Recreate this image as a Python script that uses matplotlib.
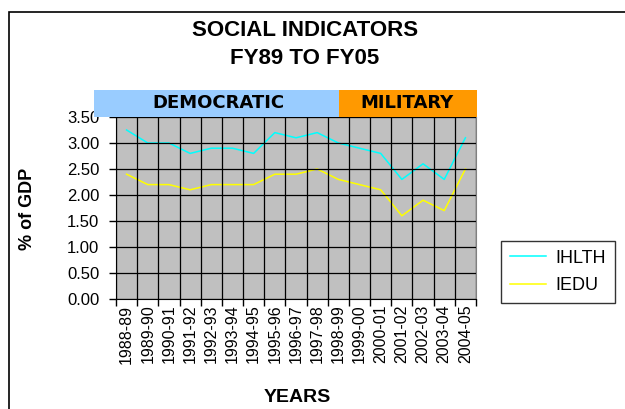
import matplotlib
matplotlib.use("Agg")
import matplotlib.pyplot as plt
from matplotlib.patches import Rectangle
from matplotlib.ticker import FixedLocator, FixedFormatter

years = ["1988-89", "1989-90", "1990-91", "1991-92", "1992-93", "1993-94", "1994-95",
         "1995-96", "1996-97", "1997-98", "1998-99", "1999-00", "2000-01", "2001-02",
         "2002-03", "2003-04", "2004-05"]
ihlth = [3.25, 3.0, 3.0, 2.8, 2.9, 2.9, 2.8, 3.2, 3.1, 3.2, 3.0, 2.9, 2.8, 2.3, 2.6, 2.3, 3.1]
iedu = [2.4, 2.2, 2.2, 2.1, 2.2, 2.2, 2.2, 2.4, 2.4, 2.5, 2.3, 2.2, 2.1, 1.6, 1.9, 1.7, 2.5]
yticks = [0.0, 0.5, 1.0, 1.5, 2.0, 2.5, 3.0, 3.5]

plt.rcParams['font.family'] = ['Liberation Sans', 'DejaVu Sans']

W, H = 625, 409
fig = plt.figure(figsize=(W / 100, H / 100), dpi=100)

def fx(px):
    return px / W

def fy(py):
    return 1 - py / H

# outer border (partially clipped like the reference)
fig.patches.append(Rectangle((fx(9), -0.1), 1.2, fy(12) + 0.1, transform=fig.transFigure,
                             fill=False, edgecolor='black', linewidth=1.2))

ax = fig.add_axes([fx(116), fy(299), fx(476) - fx(116), fy(117) - fy(299)])
ax.set_facecolor('#C0C0C0')
n = len(years)
x = list(range(n))
ax.plot(x, ihlth, color='#00FFFF', linewidth=1.1, label='IHLTH')
ax.plot(x, iedu, color='#FFFF00', linewidth=1.1, label='IEDU')
ax.set_xlim(-0.5, n - 0.5)
ax.set_ylim(0, 3.5)

ax.xaxis.set_major_locator(FixedLocator([i - 0.5 for i in range(n + 1)]))
ax.xaxis.set_major_formatter(FixedFormatter([''] * (n + 1)))
ax.xaxis.set_minor_locator(FixedLocator(x))
ax.xaxis.set_minor_formatter(FixedFormatter(years))
ax.tick_params(axis='x', which='major', length=5, width=1, color='black', direction='out')
ax.tick_params(axis='x', which='minor', length=0, labelsize=11.5, labelrotation=90, pad=4)
ax.set_yticks(yticks)
ax.set_yticklabels([f"{v:.2f}" for v in yticks])
ax.tick_params(axis='y', length=5, width=1, labelsize=12, pad=7)
ax.grid(True, which='major', color='black', linewidth=0.9)
ax.set_axisbelow(False)
for s in ['top', 'right']:
    ax.spines[s].set_color('#808080')
for s in ['left', 'bottom']:
    ax.spines[s].set_color('black')

# banners
bt, bb = fy(90), fy(117)
fig.patches.append(Rectangle((fx(94), bb), fx(339) - fx(94), bt - bb, transform=fig.transFigure,
                             facecolor='#99CCFF', edgecolor='none', zorder=5))
fig.patches.append(Rectangle((fx(339), bb), fx(477) - fx(339), bt - bb, transform=fig.transFigure,
                             facecolor='#FF9900', edgecolor='none', zorder=5))
fig.text(fx(218), (bt + bb) / 2, 'DEMOCRATIC', ha='center', va='center', fontsize=13,
         fontweight='bold', family='DejaVu Sans', zorder=6)
fig.text(fx(407), (bt + bb) / 2, 'MILITARY', ha='center', va='center', fontsize=13,
         fontweight='bold', family='DejaVu Sans', zorder=6)

# titles
fig.text(fx(305), fy(30), 'SOCIAL INDICATORS', ha='center', va='center', fontsize=16,
         fontweight='bold')
fig.text(fx(305), fy(58), 'FY89 TO FY05', ha='center', va='center', fontsize=16,
         fontweight='bold')
fig.text(fx(297), fy(397), 'YEARS', ha='center', va='center', fontsize=14, fontweight='bold')
fig.text(fx(28), fy(209), '% of GDP', ha='center', va='center', rotation=90, fontsize=13,
         fontweight='bold')

leg = fig.legend(loc='center', bbox_to_anchor=(fx(558), fy(272)), frameon=True, fancybox=False,
                 edgecolor='black', fontsize=13, handlelength=2.0, borderpad=0.5,
                 labelspacing=0.6, handletextpad=0.5)
leg.get_frame().set_linewidth(1.0)

fig.savefig('out.png', dpi=100)
